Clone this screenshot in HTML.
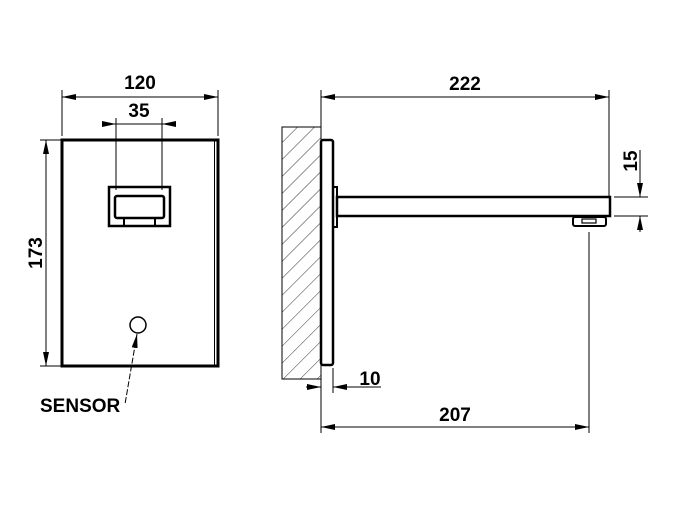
<!DOCTYPE html>
<html><head><style>body{margin:0;background:#fff}svg{display:block}text{font-family:"Liberation Sans",sans-serif;font-weight:bold;font-size:19px;fill:#000}</style></head>
<body>
<svg width="691" height="525" viewBox="0 0 691 525" xmlns="http://www.w3.org/2000/svg">
<defs>
<marker id="a" viewBox="0 0 14 6" refX="14" refY="3" markerWidth="14" markerHeight="6" orient="auto-start-reverse" markerUnits="userSpaceOnUse"><path d="M0,0L14,3L0,6z" fill="#000"/></marker>
<pattern id="h" width="12" height="12" patternUnits="userSpaceOnUse" patternTransform="rotate(45)"><line x1="0" y1="0" x2="0" y2="12" stroke="#000" stroke-width="0.8"/></pattern>
</defs>
<g stroke="#000" fill="none">
<line x1="62" y1="90" x2="62" y2="136" stroke-width="1"/>
<line x1="218" y1="90" x2="218" y2="136" stroke-width="1"/>
<line x1="62" y1="97" x2="218" y2="97" stroke-width="1" marker-start="url(#a)" marker-end="url(#a)"/>
<line x1="116" y1="118" x2="116" y2="190" stroke-width="1"/>
<line x1="162" y1="118" x2="162" y2="190" stroke-width="1"/>
<line x1="102" y1="124" x2="116" y2="124" stroke-width="1" marker-end="url(#a)"/>
<line x1="176" y1="124" x2="162" y2="124" stroke-width="1" marker-end="url(#a)"/>
<line x1="116" y1="124" x2="162" y2="124" stroke-width="1"/>
<rect x="62" y="140" width="156" height="226" stroke-width="3"/>
<line x1="214.5" y1="141" x2="214.5" y2="365" stroke-width="1"/>
<rect x="109" y="187" width="61" height="39" stroke-width="2.5"/>
<rect x="115" y="196" width="49" height="22" rx="2" stroke-width="2.5"/>
<path d="M124,218v8M155,218v8" stroke-width="2"/>
<circle cx="138" cy="325" r="8" stroke-width="1.5"/>
<line x1="137" y1="334" x2="125" y2="404" stroke-width="1" stroke-dasharray="6,2" marker-start="url(#a)"/>
<line x1="40" y1="140" x2="62" y2="140" stroke-width="1"/>
<line x1="40" y1="366" x2="62" y2="366" stroke-width="1"/>
<line x1="46" y1="140" x2="46" y2="366" stroke-width="1" marker-start="url(#a)" marker-end="url(#a)"/>
<rect x="282" y="127" width="39" height="252" fill="url(#h)" stroke-width="1"/>
<rect x="321" y="140" width="12" height="225" rx="2" stroke-width="2.5"/>
<rect x="333" y="187" width="4" height="40" stroke-width="2"/>
<rect x="337" y="197" width="273" height="19" stroke-width="2.5"/>
<rect x="573" y="217" width="33" height="9" rx="2" stroke-width="2"/>
<rect x="582" y="219" width="14" height="4" stroke-width="1.2"/>
<line x1="321" y1="90" x2="321" y2="127" stroke-width="1"/>
<line x1="609" y1="90" x2="609" y2="196" stroke-width="1"/>
<line x1="321" y1="97" x2="609" y2="97" stroke-width="1" marker-start="url(#a)" marker-end="url(#a)"/>
<line x1="614" y1="197" x2="648" y2="197" stroke-width="1"/>
<line x1="614" y1="216" x2="648" y2="216" stroke-width="1"/>
<line x1="640" y1="150" x2="640" y2="197" stroke-width="1" marker-end="url(#a)"/>
<line x1="640" y1="232" x2="640" y2="216" stroke-width="1" marker-end="url(#a)"/>
<line x1="333" y1="368" x2="333" y2="393" stroke-width="1"/>
<line x1="306" y1="387" x2="321" y2="387" stroke-width="1" marker-end="url(#a)"/>
<line x1="381" y1="387" x2="333" y2="387" stroke-width="1" marker-end="url(#a)"/>
<line x1="321" y1="379" x2="321" y2="433" stroke-width="1"/>
<line x1="589" y1="232" x2="589" y2="433" stroke-width="1"/>
<line x1="321" y1="427" x2="589" y2="427" stroke-width="1" marker-start="url(#a)" marker-end="url(#a)"/>
</g>
<text x="140" y="89" text-anchor="middle">120</text>
<text x="139" y="117" text-anchor="middle">35</text>
<text x="40" y="412">SENSOR</text>
<text transform="translate(42,253) rotate(-90)" text-anchor="middle">173</text>
<text x="465" y="90" text-anchor="middle">222</text>
<text transform="translate(637,161) rotate(-90)" text-anchor="middle">15</text>
<text x="370" y="385" text-anchor="middle">10</text>
<text x="455" y="421" text-anchor="middle">207</text>
</svg>
</body></html>
